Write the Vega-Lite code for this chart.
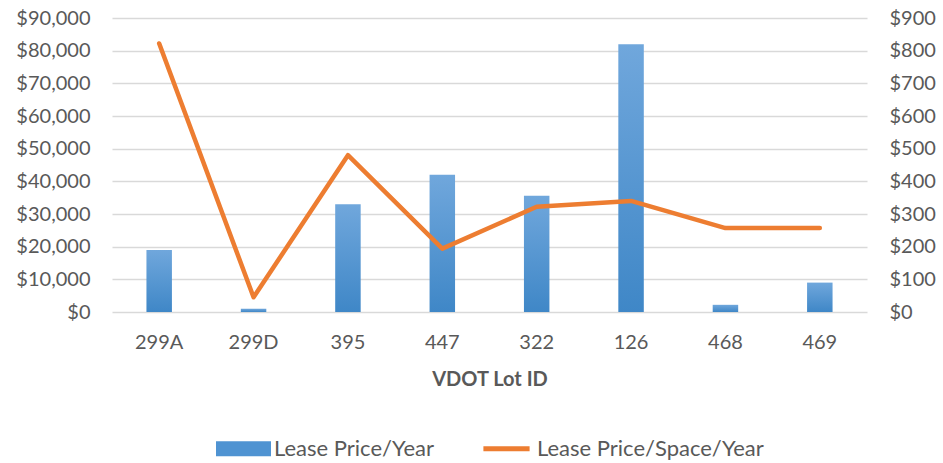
{
  "$schema": "https://vega.github.io/schema/vega-lite/v6.json",
  "width": 755,
  "height": 294,
  "autosize": {"type": "none"},
  "padding": {"left": 112, "top": 18, "right": 76, "bottom": 151},
  "background": "white",
  "config": {
    "font": "Lato",
    "view": {"stroke": null},
    "axis": {"labelColor": "#595959", "labelFontSize": 20, "titleColor": "#595959", "labelFont": "Lato", "titleFont": "Lato"},
    "legend": {"labelFont": "Lato", "layout": {"bottom": {"anchor": "middle"}}}
  },
  "data": {
    "values": [
      {"lot": "299A", "price": 19000, "perspace": 822},
      {"lot": "299D", "price": 1000, "perspace": 45},
      {"lot": "395", "price": 33000, "perspace": 480},
      {"lot": "447", "price": 42000, "perspace": 194},
      {"lot": "322", "price": 35600, "perspace": 322},
      {"lot": "126", "price": 82000, "perspace": 340},
      {"lot": "468", "price": 2200, "perspace": 257},
      {"lot": "469", "price": 9000, "perspace": 257}
    ]
  },
  "encoding": {
    "x": {
      "field": "lot",
      "type": "nominal",
      "sort": null,
      "scale": {"paddingInner": 0.73, "paddingOuter": 0.365},
      "axis": {
        "title": "VDOT Lot ID",
        "labelAngle": 0,
        "ticks": false,
        "domain": false,
        "grid": false,
        "labelPadding": 20,
        "titleFontSize": 20,
        "titleFontWeight": "bold",
        "titlePadding": 17
      }
    }
  },
  "layer": [
    {
      "mark": {
        "type": "bar",
        "color": {
          "gradient": "linear",
          "x1": 0, "y1": 0, "x2": 0, "y2": 1,
          "stops": [
            {"offset": 0, "color": "#70a7dc"},
            {"offset": 1, "color": "#3f87c7"}
          ]
        }
      },
      "encoding": {
        "y": {
          "field": "price",
          "type": "quantitative",
          "scale": {"domain": [0, 90000]},
          "axis": {
            "title": null,
            "format": "$,.0f",
            "values": [0, 10000, 20000, 30000, 40000, 50000, 60000, 70000, 80000, 90000],
            "grid": true,
            "gridColor": "#d9d9d9",
            "gridWidth": 1.5,
            "domain": false,
            "ticks": false,
            "labelPadding": 22
          }
        }
      }
    },
    {
      "mark": {"type": "line", "strokeWidth": 4.5, "strokeCap": "round", "strokeJoin": "round"},
      "encoding": {
        "y": {
          "field": "perspace",
          "type": "quantitative",
          "scale": {"domain": [0, 900]},
          "axis": {
            "orient": "right",
            "title": null,
            "format": "$,.0f",
            "values": [0, 100, 200, 300, 400, 500, 600, 700, 800, 900],
            "grid": false,
            "domain": false,
            "ticks": false,
            "labelPadding": 22
          }
        },
        "color": {
          "datum": "Lease Price/Space/Year",
          "type": "nominal",
          "scale": {"domain": ["Lease Price/Year", "Lease Price/Space/Year"], "range": ["#5b9bd5", "#ed7d31"]},
          "legend": {
            "orient": "bottom",
            "direction": "horizontal",
            "title": null,
            "labelFontSize": 22,
            "labelColor": "#595959",
            "labelLimit": 400,
            "symbolSize": 3025,
            "labelOffset": 3,
            "columnPadding": 45,
            "offset": 32,
            "encode": {
              "symbols": {
                "update": {
                  "shape": {"signal": "datum.value === 'Lease Price/Year' ? 'M-1,-0.27H1V0.27H-1Z' : 'M-0.84,-0.09H0.84V0.09H-0.84Z'"},
                  "fill": {"signal": "datum.value === 'Lease Price/Year' ? '#4f93d2' : '#ed7d31'"},
                  "stroke": {"value": "transparent"},
                  "strokeWidth": {"value": 0},
                  "opacity": {"value": 1}
                }
              }
            }
          }
        }
      }
    }
  ],
  "resolve": {"scale": {"y": "independent"}}
}
